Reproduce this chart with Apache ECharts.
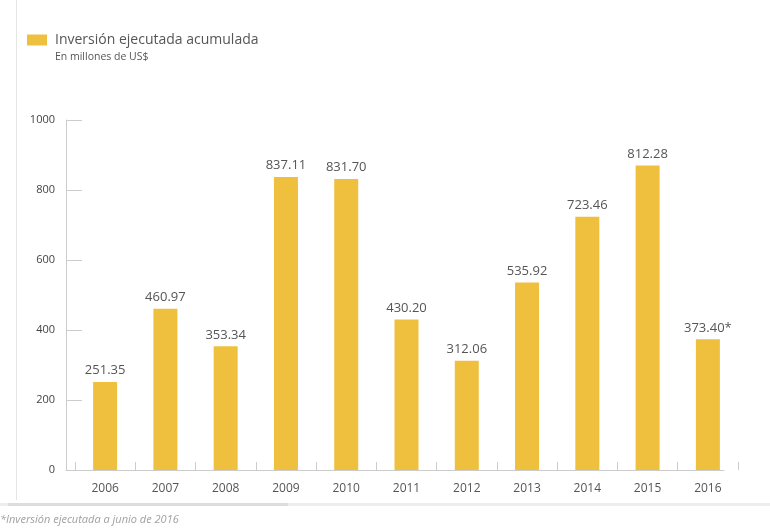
<!DOCTYPE html>
<html>
<head>
<meta charset="utf-8">
<script src="https://cdn.jsdelivr.net/npm/echarts@6/dist/echarts.min.js"></script>
<style>
html,body{margin:0;padding:0;background:#fff;}
#c{width:770px;height:531px;}
</style>
</head>
<body>
<div id="c"></div>
<script>
// Categories (years)
const years = ['2006','2007','2008','2009','2010','2011','2012','2013','2014','2015','2016'];
// Bar heights as drawn in the picture (2015 bar is drawn taller than its label)
const barValues = [251.35, 460.97, 353.34, 837.11, 831.70, 430.20, 312.06, 535.92, 723.46, 870, 373.40];
// Value labels printed above bars
const barLabels = ['251.35','460.97','353.34','837.11','831.70','430.20','312.06','535.92','723.46','812.28','373.40*'];
// Y axis ticks
const yMin = 0, yMax = 1000, yStep = 200;

const legendName = 'Inversión ejecutada acumulada';
const subtitle = 'En millones de US$';
const footnote = '*Inversión ejecutada a junio de 2016';

const FONT = '"Open Sans", "Noto Sans", sans-serif';
const chart = echarts.init(document.getElementById('c'), null, {renderer: 'canvas'});

chart.setOption({
  backgroundColor: '#ffffff',
  animation: false,
  textStyle: {fontFamily: FONT},
  legend: {
    left: 22, top: 28,
    itemWidth: 20, itemHeight: 11, itemGap: 8,
    icon: 'rect',
    textStyle: {fontSize: 14, color: '#555', fontFamily: FONT, padding: [0, 0, 0, 3]},
    data: [legendName]
  },
  title: {
    text: subtitle,
    left: 50, top: 47,
    textStyle: {fontSize: 10.5, color: '#555', fontWeight: 'normal', fontFamily: FONT}
  },
  grid: [
    {left: 75, right: 32, top: 120, bottom: 61},
    {left: 66, right: 46, top: 120, bottom: 61}
  ],
  xAxis: [
    {
      type: 'category', gridIndex: 0, data: years,
      axisLine: {show: false},
      axisTick: {show: true, inside: true, length: 8, lineStyle: {color: '#ccc'}},
      axisLabel: {fontSize: 12, color: '#555', margin: 13, fontFamily: FONT}
    },
    {
      type: 'value', gridIndex: 1, min: 0, max: 1,
      axisLine: {show: true, lineStyle: {color: '#ccc', width: 1}},
      axisTick: {show: false}, axisLabel: {show: false}, splitLine: {show: false}
    }
  ],
  yAxis: [
    {
      type: 'value', gridIndex: 0, min: yMin, max: yMax, interval: yStep,
      offset: 9,
      axisLine: {show: true, lineStyle: {color: '#ccc'}},
      axisTick: {show: true, inside: true, length: 16, lineStyle: {color: '#ccc'}},
      axisLabel: {fontSize: 11, color: '#444', margin: 11, fontFamily: FONT,
                  formatter: v => String(v)},
      splitLine: {show: false}
    },
    {type: 'value', gridIndex: 1, show: false, min: 0, max: 1}
  ],
  series: [{
    name: legendName,
    type: 'bar',
    xAxisIndex: 0, yAxisIndex: 0,
    data: barValues,
    barWidth: 24,
    itemStyle: {color: '#EFC03E'},
    label: {
      show: true, position: 'top', distance: 5,
      fontSize: 13, color: '#555', fontFamily: FONT,
      formatter: p => barLabels[p.dataIndex]
    }
  }],
  graphic: [
    {type: 'rect', shape: {x: 16, y: 0, width: 1, height: 500}, style: {fill: '#e4e4e4'}, silent: true},
    {type: 'rect', shape: {x: 0, y: 503, width: 770, height: 3}, style: {fill: '#eeeeee'}, silent: true},
    {type: 'rect', shape: {x: 8, y: 503, width: 280, height: 3}, style: {fill: '#dddddd'}, silent: true},
    {type: 'text', left: 0, top: 514,
     style: {text: footnote, fontSize: 11, fontStyle: 'italic', fill: '#a0a0a0', fontFamily: FONT}}
  ]
});
</script>
</body>
</html>
